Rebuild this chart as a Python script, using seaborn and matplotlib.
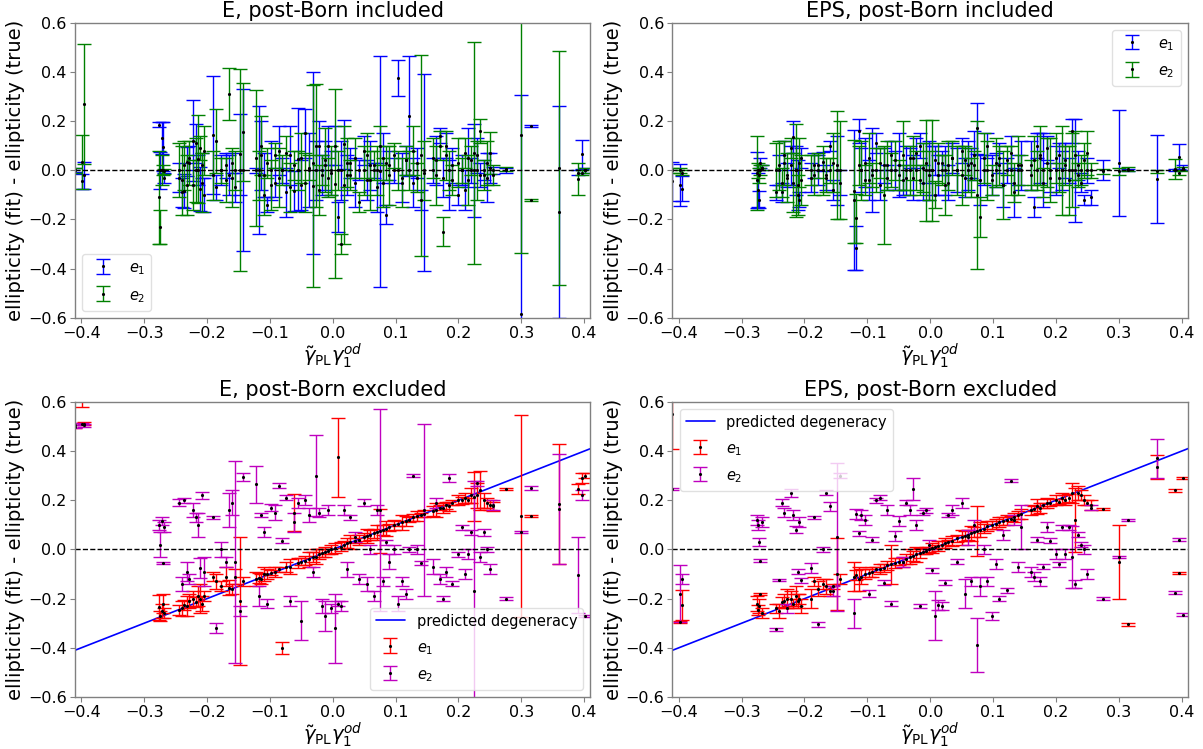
import matplotlib
matplotlib.use("Agg")
import matplotlib.pyplot as plt
import seaborn as sns

# shared x values (one entry per lens)
gamma = [
    -0.41, -0.398, -0.395,
    -0.276, -0.274, -0.272, -0.27, -0.268,
    -0.245, -0.24, -0.236, -0.232, -0.228,
    -0.222, -0.218, -0.214, -0.211, -0.208, -0.205,
    -0.19, -0.185, -0.178, -0.17, -0.165, -0.16, -0.155, -0.148, -0.143,
    -0.122, -0.118, -0.114, -0.11, -0.104, -0.098, -0.092, -0.086, -0.08, -0.074, -0.068, -0.062,
    -0.056, -0.05, -0.044, -0.038, -0.032, -0.027, -0.022, -0.017, -0.012, -0.007, -0.002,
    0.003, 0.008, 0.013, 0.018, 0.023, 0.028, 0.035, 0.042, 0.05, 0.055, 0.06, 0.065, 0.07,
    0.075, 0.08, 0.085, 0.09, 0.098, 0.104, 0.11, 0.116, 0.122, 0.128, 0.134, 0.14, 0.145,
    0.16, 0.165, 0.17, 0.175, 0.18, 0.185, 0.19, 0.2, 0.205, 0.21,
    0.215, 0.22, 0.225, 0.23, 0.235, 0.24, 0.245, 0.25, 0.255,
    0.275, 0.3, 0.315, 0.36, 0.39, 0.396, 0.402,
]

# E, post-Born included
incl_E_e1 = [
    0.0, -0.045, -0.02,
    0.185, 0.0, 0.13, 0.095, -0.03,
    -0.03, -0.09, -0.085, 0.035, 0.05,
    0.12, 0.11, 0.0, -0.075, 0.02, -0.1,
    0.145, -0.07, 0.0, 0.02, -0.02, 0.03, -0.07, 0.065, 0.0,
    0.0, 0.0, 0.06, -0.02, -0.14, 0.0, -0.05, 0.08, 0.0, -0.09, 0.06, -0.085,
    0.045, -0.06, 0.15, 0.0, 0.03, 0.0, 0.1, -0.02, 0.02, 0.1, -0.01,
    0.1, -0.19, 0.0, 0.105, -0.02, 0.03, -0.05, 0.0, 0.08, -0.04, 0.02, 0.0, -0.07,
    -0.005, 0.05, -0.18, 0.02, 0.0, 0.375, -0.03, 0.04, 0.22, -0.05, 0.03, -0.12, -0.01,
    0.0, 0.04, 0.14, -0.03, 0.1, -0.06, 0.02, -0.1, 0.0, -0.08,
    0.05, 0.0, 0.0, 0.06, -0.02, 0.0, -0.03, 0.01, 0.0,
    0.0, -0.585, 0.18, -0.17, -0.01, 0.065, 0.0,
]
incl_E_e1_err = [
    0.008, 0.03, 0.055,
    0.01, 0.075, 0.065, 0.1, 0.02,
    0.06, 0.06, 0.07, 0.06, 0.05,
    0.165, 0.08, 0.06, 0.09, 0.05, 0.07,
    0.24, 0.05, 0.06, 0.05, 0.08, 0.04, 0.06, 0.165, 0.33,
    0.01, 0.26, 0.14, 0.09, 0.03, 0.12, 0.06, 0.1, 0.05, 0.1, 0.12, 0.08,
    0.21, 0.1, 0.1, 0.15, 0.37, 0.12, 0.1, 0.08, 0.1, 0.08, 0.09,
    0.08, 0.06, 0.12, 0.1, 0.08, 0.06, 0.1, 0.04, 0.06, 0.08, 0.1, 0.03, 0.1,
    0.47, 0.1, 0.04, 0.06, 0.05, 0.075, 0.1, 0.06, 0.245, 0.1, 0.06, 0.04, 0.4,
    0.05, 0.1, 0.03, 0.08, 0.05, 0.1, 0.07, 0.04, 0.06, 0.08,
    0.12, 0.05, 0.19, 0.07, 0.05, 0.04, 0.1, 0.06, 0.015,
    0.01, 0.89, 0.005, 0.43, 0.01, 0.06, 0.01,
]
incl_E_e2 = [
    0.0, 0.035, 0.27,
    -0.11, -0.23, 0.0, 0.0, -0.005,
    0.0, -0.04, 0.02, -0.06, 0.03,
    -0.06, 0.0, 0.045, 0.09, -0.05, 0.08,
    -0.02, 0.12, 0.0, -0.04, 0.31, -0.03, 0.0, 0.0, 0.155,
    0.05, -0.02, 0.1, -0.1, 0.03, -0.06, 0.06, -0.03, 0.0, 0.07, -0.07, 0.02,
    0.0, 0.05, -0.05, 0.01, -0.065, 0.1, -0.08, 0.0, 0.04, -0.03, 0.0,
    -0.055, 0.0, -0.3, -0.06, 0.03, -0.02, 0.05, -0.13, 0.0, 0.06, -0.04, 0.02, 0.0,
    0.1, -0.05, 0.03, -0.02, 0.06, 0.0, -0.05, 0.04, 0.0, 0.08, -0.03, 0.06, 0.0,
    0.05, -0.02, 0.1, -0.25, 0.06, 0.0, -0.04, 0.03, 0.0, 0.07,
    -0.04, 0.04, 0.07, 0.0, 0.16, -0.02, 0.03, 0.07, -0.02,
    0.005, 0.145, -0.12, 0.01, -0.035, -0.01, 0.0,
]
incl_E_e2_err = [
    0.01, 0.11, 0.245,
    0.19, 0.07, 0.06, 0.02, 0.01,
    0.11, 0.14, 0.1, 0.12, 0.09,
    0.1, 0.13, 0.18, 0.05, 0.12, 0.1,
    0.1, 0.13, 0.05, 0.09, 0.105, 0.12, 0.08, 0.41, 0.2,
    0.275, 0.1, 0.12, 0.08, 0.06, 0.1, 0.05, 0.12, 0.06, 0.07, 0.1, 0.06,
    0.08, 0.1, 0.12, 0.05, 0.41, 0.25, 0.1, 0.06, 0.13, 0.08, 0.1,
    0.385, 0.08, 0.04, 0.24, 0.1, 0.06, 0.08, 0.04, 0.1, 0.09, 0.12, 0.06, 0.1,
    0.08, 0.1, 0.07, 0.12, 0.05, 0.08, 0.1, 0.06, 0.08, 0.1, 0.06, 0.41, 0.12,
    0.08, 0.12, 0.06, 0.06, 0.1, 0.08, 0.06, 0.1, 0.05, 0.06,
    0.1, 0.06, 0.45, 0.12, 0.05, 0.06, 0.09, 0.085, 0.04,
    0.01, 0.48, 0.005, 0.475, 0.065, 0.01, 0.01,
]

# EPS, post-Born included
incl_EPS_e1 = [
    -0.045, -0.06, -0.075,
    -0.04, -0.08, -0.12, 0.03, 0.01,
    -0.09, 0.0, -0.09, 0.06, -0.02,
    0.02, 0.135, 0.0, -0.06, -0.12, 0.05,
    -0.03, 0.02, 0.0, 0.035, -0.03, 0.1, -0.08, 0.0, -0.05,
    -0.12, -0.315, 0.16, 0.0, 0.03, -0.04, 0.0, 0.11, -0.06, 0.02, -0.03, 0.06,
    0.0, 0.02, -0.04, 0.0, 0.05, -0.03, 0.07, 0.1, -0.05, 0.03, 0.0,
    0.0, 0.04, -0.02, 0.03, 0.0, -0.05, 0.05, 0.0, 0.08, -0.03, 0.02, 0.03, 0.06,
    0.17, -0.04, 0.0, 0.1, -0.02, 0.0, 0.05, -0.06, 0.0, 0.07, -0.09, 0.0, 0.02,
    0.02, -0.15, 0.1, 0.05, 0.0, 0.09, -0.03, 0.0, 0.06, 0.0,
    0.04, 0.0, 0.16, 0.0, 0.02, -0.05, -0.12, 0.0, -0.11,
    0.0, 0.03, 0.0, -0.035, 0.0, 0.055, 0.01,
]
incl_EPS_e1_err = [
    0.08, 0.085, 0.05,
    0.115, 0.07, 0.035, 0.02, 0.01,
    0.03, 0.06, 0.04, 0.06, 0.05,
    0.08, 0.065, 0.1, 0.1, 0.03, 0.04,
    0.06, 0.05, 0.06, 0.04, 0.05, 0.02, 0.04, 0.14, 0.05,
    0.285, 0.09, 0.05, 0.09, 0.1, 0.08, 0.17, 0.04, 0.06, 0.07, 0.05, 0.06,
    0.08, 0.13, 0.06, 0.1, 0.04, 0.09, 0.06, 0.05, 0.07, 0.08, 0.12,
    0.1, 0.06, 0.08, 0.05, 0.1, 0.07, 0.06, 0.09, 0.05, 0.08, 0.1, 0.06, 0.1,
    0.105, 0.1, 0.06, 0.05, 0.08, 0.07, 0.06, 0.09, 0.05, 0.07, 0.1, 0.06, 0.1,
    0.1, 0.04, 0.05, 0.1, 0.15, 0.05, 0.06, 0.1, 0.05, 0.08,
    0.07, 0.05, 0.05, 0.21, 0.06, 0.04, 0.02, 0.05, 0.03,
    0.04, 0.215, 0.005, 0.18, 0.005, 0.05, 0.01,
]
incl_EPS_e2 = [
    0.0, 0.0, -0.01,
    -0.01, 0.0, -0.02, 0.0, 0.01,
    0.0, 0.02, -0.05, 0.03, -0.03,
    0.09, -0.05, 0.0, -0.1, 0.03, -0.04,
    0.0, -0.02, 0.02, 0.0, -0.02, 0.0, 0.03, 0.02, 0.0,
    -0.085, -0.195, 0.02, 0.0, -0.04, 0.05, -0.02, 0.0, 0.03, -0.1, 0.02, 0.0,
    0.04, -0.02, 0.06, -0.03, 0.0, 0.05, 0.0, -0.04, 0.01, 0.0, -0.02,
    0.0, -0.1, 0.03, 0.0, -0.06, 0.02, 0.05, 0.0, -0.02, 0.04, 0.0, -0.03, 0.02,
    -0.1, -0.19, 0.05, 0.0, -0.04, 0.03, 0.02, -0.06, 0.04, 0.0, -0.05, 0.02, 0.0,
    -0.02, 0.04, 0.0, 0.06, -0.05, 0.03, 0.0, 0.05, -0.03, 0.0,
    0.02, -0.04, 0.0, 0.06, -0.02, 0.0, 0.04, 0.07, 0.0,
    -0.005, -0.005, 0.005, -0.005, 0.005, -0.01, 0.005,
]
incl_EPS_e2_err = [
    0.01, 0.01, 0.01,
    0.15, 0.03, 0.03, 0.02, 0.01,
    0.11, 0.1, 0.06, 0.09, 0.1,
    0.04, 0.12, 0.19, 0.08, 0.1, 0.1,
    0.06, 0.08, 0.05, 0.1, 0.07, 0.05, 0.12, 0.22, 0.2,
    0.21, 0.1, 0.08, 0.12, 0.06, 0.1, 0.05, 0.09, 0.06, 0.2, 0.1, 0.07,
    0.08, 0.06, 0.14, 0.05, 0.1, 0.09, 0.08, 0.06, 0.1, 0.205, 0.1,
    0.205, 0.055, 0.08, 0.06, 0.12, 0.1, 0.07, 0.1, 0.12, 0.06, 0.09, 0.08, 0.06,
    0.3, 0.08, 0.1, 0.12, 0.06, 0.1, 0.08, 0.14, 0.06, 0.1, 0.08, 0.12, 0.06,
    0.06, 0.1, 0.08, 0.12, 0.06, 0.1, 0.13, 0.1, 0.06, 0.18,
    0.08, 0.14, 0.15, 0.1, 0.05, 0.06, 0.07, 0.09, 0.03,
    0.01, 0.015, 0.01, 0.005, 0.04, 0.01, 0.01,
]

# E, post-Born excluded
excl_E_e1 = [
    0.505, 0.7, 0.512,
    -0.235, -0.27, -0.25, -0.22, -0.26,
    -0.245, -0.24, -0.225, -0.23, -0.21,
    -0.2, -0.215, -0.19, -0.2, -0.22, -0.19,
    -0.11, -0.13, -0.15, -0.11, -0.155, -0.16, -0.11, -0.21, -0.13,
    -0.12, -0.115, -0.12, -0.1, -0.1, -0.095, -0.09, -0.08, -0.4, -0.07, -0.07, 0.15,
    -0.055, -0.05, -0.045, -0.04, -0.03, -0.03, -0.02, -0.015, -0.01, -0.008, 0.0,
    0.005, 0.375, 0.012, 0.02, 0.025, 0.03, 0.035, 0.04, 0.05, 0.055, 0.06, 0.065, 0.07,
    0.075, 0.08, 0.085, 0.09, 0.1, 0.105, 0.11, 0.115, 0.12, 0.13, 0.135, 0.14, 0.145,
    0.155, 0.16, 0.17, 0.17, 0.18, 0.175, 0.19, 0.2, 0.2, 0.21,
    0.2, 0.22, 0.215, 0.22, 0.24, 0.2, 0.19, 0.18, 0.175,
    0.245, 0.135, 0.135, 0.185, 0.245, 0.29, 0.3,
]
excl_E_e1_err = [
    0.01, 0.12, 0.005,
    0.05, 0.02, 0.03, 0.04, 0.02,
    0.02, 0.03, 0.02, 0.04, 0.03,
    0.03, 0.02, 0.04, 0.06, 0.03, 0.02,
    0.02, 0.03, 0.02, 0.04, 0.03, 0.02, 0.03, 0.26, 0.02,
    0.03, 0.02, 0.02, 0.03, 0.02, 0.01, 0.02, 0.01, 0.025, 0.02, 0.03, 0.075,
    0.02, 0.015, 0.02, 0.03, 0.02, 0.03, 0.02, 0.015, 0.02, 0.01, 0.02,
    0.02, 0.16, 0.02, 0.015, 0.02, 0.03, 0.01, 0.02, 0.015, 0.03, 0.02, 0.02, 0.03,
    0.09, 0.02, 0.03, 0.015, 0.02, 0.01, 0.03, 0.02, 0.01, 0.015, 0.02, 0.01, 0.015,
    0.02, 0.03, 0.01, 0.02, 0.015, 0.02, 0.01, 0.02, 0.015, 0.02,
    0.01, 0.03, 0.1, 0.05, 0.08, 0.03, 0.02, 0.02, 0.02,
    0.005, 0.41, 0.005, 0.245, 0.02, 0.02, 0.01,
]
excl_E_e2 = [
    0.5, 0.51, 0.505,
    0.1, 0.02, 0.115, -0.055, 0.09,
    0.19, -0.14, 0.2, -0.09, -0.12,
    0.16, 0.13, 0.1, -0.075, 0.22, -0.09,
    0.13, -0.32, 0.0, -0.05, 0.16, 0.19, -0.05, -0.25, 0.295,
    0.265, -0.19, 0.14, 0.07, -0.22, 0.17, 0.15, 0.26, 0.035, 0.21, -0.21, 0.11,
    0.19, -0.29, 0.2, 0.14, -0.09, 0.3, 0.15, -0.23, -0.27, 0.16, -0.24,
    -0.32, -0.22, -0.23, 0.16, -0.08, 0.13, 0.05, -0.12, 0.19, -0.14, 0.0, -0.19, 0.16,
    0.16, -0.13, 0.03, -0.05, 0.0, -0.22, -0.13, -0.18, 0.0, 0.3, 0.0, -0.055, 0.16,
    -0.07, 0.19, -0.12, -0.2, -0.09, 0.29, -0.14, -0.02, 0.09, -0.1,
    -0.02, 0.07, -0.17, 0.27, -0.03, 0.07, 0.0, -0.08, 0.18,
    -0.2, 0.07, 0.25, 0.165, -0.105, 0.22, -0.27,
]
excl_E_e2_err = [
    0.005, 0.005, 0.005,
    0.02, 0.05, 0.015, 0.005, 0.02,
    0.015, 0.03, 0.01, 0.04, 0.02,
    0.03, 0.02, 0.05, 0.04, 0.015, 0.06,
    0.005, 0.02, 0.03, 0.02, 0.07, 0.05, 0.41, 0.02, 0.015,
    0.075, 0.04, 0.01, 0.02, 0.02, 0.015, 0.03, 0.01, 0.01, 0.01, 0.02, 0.04,
    0.02, 0.08, 0.02, 0.03, 0.02, 0.165, 0.02, 0.03, 0.06, 0.02, 0.02,
    0.14, 0.01, 0.02, 0.02, 0.03, 0.01, 0.02, 0.02, 0.015, 0.03, 0.02, 0.02, 0.02,
    0.41, 0.02, 0.01, 0.03, 0.02, 0.03, 0.02, 0.02, 0.01, 0.005, 0.02, 0.01, 0.35,
    0.03, 0.02, 0.02, 0.01, 0.02, 0.015, 0.01, 0.01, 0.01, 0.02,
    0.02, 0.01, 0.45, 0.01, 0.02, 0.015, 0.01, 0.02, 0.02,
    0.005, 0.005, 0.01, 0.225, 0.155, 0.02, 0.005,
]

# EPS, post-Born excluded
excl_EPS_e1 = [
    0.55, -0.295, -0.225,
    -0.22, -0.245, -0.23, -0.18, -0.26,
    -0.24, -0.25, -0.215, -0.21, -0.2,
    -0.2, -0.22, -0.19, -0.21, -0.2, -0.23,
    -0.2, -0.13, -0.16, -0.14, -0.15, -0.17, -0.15, -0.1, -0.12,
    -0.11, -0.105, -0.12, -0.11, -0.1, -0.095, -0.09, -0.08, -0.08, -0.075, -0.065, -0.06,
    -0.055, -0.05, -0.05, -0.04, -0.03, -0.025, -0.02, -0.015, -0.01, -0.005, 0.0,
    0.005, 0.01, 0.015, 0.02, 0.025, 0.03, 0.035, 0.045, 0.05, 0.055, 0.06, 0.065, 0.07,
    0.075, 0.08, 0.085, 0.095, 0.1, 0.105, 0.11, 0.115, 0.12, 0.125, 0.13, 0.14, 0.145,
    0.16, 0.165, 0.175, 0.17, 0.18, 0.19, 0.19, 0.2, 0.195, 0.21,
    0.2, 0.21, 0.23, 0.12, 0.23, 0.22, 0.2, 0.19, 0.18,
    0.165, -0.05, -0.305, 0.335, 0.24, -0.095, 0.29,
]
excl_EPS_e1_err = [
    0.14, 0.005, 0.06,
    0.03, 0.02, 0.03, 0.005, 0.02,
    0.02, 0.03, 0.02, 0.03, 0.04,
    0.03, 0.02, 0.04, 0.03, 0.02, 0.03,
    0.04, 0.02, 0.03, 0.02, 0.03, 0.02, 0.01, 0.145, 0.02,
    0.06, 0.02, 0.05, 0.03, 0.02, 0.015, 0.02, 0.01, 0.02, 0.015, 0.02, 0.08,
    0.02, 0.015, 0.02, 0.02, 0.03, 0.02, 0.03, 0.02, 0.01, 0.015, 0.01,
    0.02, 0.01, 0.02, 0.015, 0.02, 0.01, 0.02, 0.015, 0.03, 0.02, 0.02, 0.03, 0.02,
    0.1, 0.03, 0.02, 0.02, 0.015, 0.02, 0.02, 0.015, 0.02, 0.01, 0.02, 0.015, 0.02,
    0.02, 0.01, 0.03, 0.02, 0.01, 0.02, 0.015, 0.02, 0.01, 0.02,
    0.02, 0.015, 0.04, 0.13, 0.03, 0.02, 0.02, 0.01, 0.02,
    0.005, 0.15, 0.005, 0.05, 0.005, 0.005, 0.005,
]
excl_EPS_e2 = [
    0.245, -0.18, -0.12,
    0.12, 0.1, 0.03, -0.045, 0.11,
    -0.325, -0.125, 0.19, 0.15, -0.24,
    0.23, 0.14, 0.08, -0.09, 0.11, -0.125,
    -0.075, 0.13, -0.305, 0.0, 0.23, 0.175, -0.17, 0.05, 0.3,
    -0.26, 0.145, 0.065, 0.14, 0.12, -0.18, 0.04, 0.2, 0.21, -0.135, 0.16, -0.22,
    0.055, 0.115, -0.05, 0.19, 0.16, 0.245, 0.1, -0.23, 0.15, 0.16, 0.02,
    -0.085, -0.27, -0.225, -0.23, -0.135, 0.14, 0.16, -0.05, 0.19, -0.18, 0.05, -0.13, 0.1,
    -0.39, -0.15, 0.0, -0.13, -0.27, -0.06, -0.2, 0.06, -0.165, 0.28, 0.12, -0.07, 0.09,
    -0.09, -0.11, 0.04, -0.13, -0.07, 0.09, 0.035, -0.02, -0.06, 0.09,
    -0.02, 0.09, -0.03, -0.14, 0.06, 0.02, 0.0, -0.1, 0.17,
    -0.2, -0.03, 0.12, 0.37, -0.175, 0.04, -0.265,
]
excl_EPS_e2_err = [
    0.005, 0.115, 0.02,
    0.02, 0.02, 0.015, 0.005, 0.02,
    0.005, 0.005, 0.015, 0.02, 0.02,
    0.015, 0.02, 0.015, 0.01, 0.02, 0.01,
    0.02, 0.005, 0.01, 0.01, 0.01, 0.02, 0.02, 0.3, 0.01,
    0.06, 0.02, 0.01, 0.02, 0.02, 0.015, 0.01, 0.01, 0.01, 0.01, 0.02, 0.01,
    0.02, 0.02, 0.02, 0.01, 0.02, 0.045, 0.02, 0.01, 0.01, 0.01, 0.02,
    0.01, 0.1, 0.02, 0.015, 0.01, 0.01, 0.02, 0.01, 0.02, 0.06, 0.03, 0.02, 0.02,
    0.11, 0.04, 0.02, 0.02, 0.015, 0.02, 0.01, 0.02, 0.01, 0.005, 0.02, 0.02, 0.09,
    0.02, 0.02, 0.01, 0.02, 0.01, 0.02, 0.01, 0.02, 0.01, 0.01,
    0.02, 0.01, 0.125, 0.015, 0.01, 0.01, 0.02, 0.02, 0.01,
    0.005, 0.005, 0.005, 0.08, 0.005, 0.005, 0.005,
]

degeneracy_x = [-0.42, 0.42]
degeneracy_y = [-0.42, 0.42]


def plot_panel(ax, y1, err1, y2, err2, colors, title, loc, degeneracy=False):
    assert len(y1) == len(err1) == len(y2) == len(err2) == len(gamma)
    if degeneracy:
        sns.lineplot(x=degeneracy_x, y=degeneracy_y, color="b", lw=1.2,
                     label="predicted degeneracy", ax=ax)
    kwargs = dict(fmt=".", color="k", ms=2.5, elinewidth=1, capsize=5, capthick=1)
    ax.errorbar(gamma, y1, yerr=err1, ecolor=colors[0], label="$e_1$", **kwargs)
    ax.errorbar(gamma, y2, yerr=err2, ecolor=colors[1], label="$e_2$", **kwargs)
    ax.axhline(0, color="k", ls="--", lw=1)
    ax.set_xlim(-0.41, 0.41)
    ax.set_ylim(-0.6, 0.6)
    ax.set_xticks([-0.4, -0.3, -0.2, -0.1, 0.0, 0.1, 0.2, 0.3, 0.4])
    ax.set_yticks([-0.6, -0.4, -0.2, 0.0, 0.2, 0.4, 0.6])
    ax.set_title(title, fontsize=15, pad=4)
    ax.set_xlabel(r"$\tilde{\gamma}_{\rm PL}\gamma_1^{od}$", fontsize=14, labelpad=0)
    ax.set_ylabel("ellipticity (fit) - ellipticity (true)", fontsize=14, labelpad=2)
    ax.legend(loc=loc, fontsize=10.5, labelspacing=0.7, handleheight=1.2)


def main():
    sns.set_style("ticks")
    plt.rcParams.update({
        "axes.edgecolor": "0.5",
        "axes.linewidth": 1.0,
        "xtick.color": "0.5",
        "ytick.color": "0.5",
        "xtick.labelcolor": "black",
        "ytick.labelcolor": "black",
        "xtick.labelsize": 11.5,
        "ytick.labelsize": 11.5,
        "xtick.major.size": 3.5,
        "ytick.major.size": 3.5,
        "xtick.major.pad": 2.5,
        "ytick.major.pad": 2.5,
        "text.color": "black",
        "axes.labelcolor": "black",
        "legend.frameon": True,
        "legend.framealpha": 0.8,
        "legend.edgecolor": "0.85",
    })

    fig, axes = plt.subplots(2, 2, figsize=(12.03, 7.49), dpi=100)
    fig.subplots_adjust(left=0.0623, right=0.9875, bottom=0.0694, top=0.9697,
                        wspace=0.159, hspace=0.285)

    plot_panel(axes[0, 0], incl_E_e1, incl_E_e1_err, incl_E_e2, incl_E_e2_err,
               ("b", "g"), "E, post-Born included", "lower left")
    plot_panel(axes[0, 1], incl_EPS_e1, incl_EPS_e1_err, incl_EPS_e2, incl_EPS_e2_err,
               ("b", "g"), "EPS, post-Born included", "upper right")
    plot_panel(axes[1, 0], excl_E_e1, excl_E_e1_err, excl_E_e2, excl_E_e2_err,
               ("r", "m"), "E, post-Born excluded", "lower right", degeneracy=True)
    plot_panel(axes[1, 1], excl_EPS_e1, excl_EPS_e1_err, excl_EPS_e2, excl_EPS_e2_err,
               ("r", "m"), "EPS, post-Born excluded", "upper left", degeneracy=True)

    fig.savefig("out.png", dpi=100)
    plt.close(fig)


if __name__ == "__main__":
    main()
